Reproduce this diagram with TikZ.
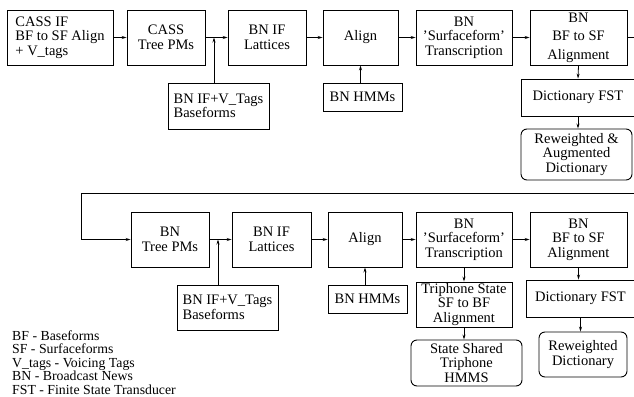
\documentclass[tikz,border=0pt]{standalone}
\usepackage{fontspec}
\setmainfont{Liberation Serif}
\usetikzlibrary{arrows.meta}
\begin{document}
\begin{tikzpicture}[x=1pt,y=-1pt,
  box/.style={draw,line width=0.9pt,inner sep=0pt,align=center,
    font=\fontsize{14.5}{14.5}\selectfont},
  rbox/.style={box,rounded corners=6pt},
  conn/.style={line width=0.8pt,-{Stealth[length=5pt,width=3pt]}},
  plain/.style={line width=0.8pt}]
\useasboundingbox (0,0) rectangle (634,396);
\clip (0,0) rectangle (634,396);
% top row
\node[box,minimum width=106pt,minimum height=55pt,align=left] (a1) at (60,37.5) {CASS IF\\BF to SF Align\\+ V\_tags};
\node[box,minimum width=78pt,minimum height=55pt] (a2) at (166,37.5) {CASS\\Tree PMs};
\node[box,minimum width=78pt,minimum height=55pt] (a3) at (267,37.5) {BN IF\\Lattices};
\node[box,minimum width=75pt,minimum height=55pt] (a4) at (360.5,37.5) {Align};
\node[box,minimum width=96pt,minimum height=55pt] (a5) at (464,37.5) {BN\\'Surfaceform'\\Transcription};
\node[box,minimum width=97pt,minimum height=55pt] (a6) at (578.5,37.5) {BN\\[4pt]BF to SF\\[4pt]Alignment};
\node[box,minimum width=101pt,minimum height=46pt,align=left] (b1) at (218.5,106) {BN IF+V\_Tags\\Baseforms};
\node[box,minimum width=79pt,minimum height=28pt] (b2) at (362.5,97) {BN HMMs};
\node[box,minimum width=114pt,minimum height=37pt] (d1) at (578,97.5) {Dictionary FST};
\node[rbox,minimum width=111pt,minimum height=51pt] (r1) at (576.5,154.5) {Reweighted \&\\Augmented\\Dictionary};
\coordinate (j1) at (214,37.5);
\draw[conn] (a1) -- (a2);
\draw[conn] (a2) -- (a3);
\draw[conn] (j1 |- b1.north) -- (j1);
\draw[conn] (a3) -- (a4);
\draw[conn] (a4.south |- b2.north) -- (a4.south);
\draw[conn] (a4) -- (a5);
\draw[conn] (a5) -- (a6);
\draw[conn] (a6.south) -- (d1.north);
\draw[conn] (d1.south) -- (d1.south |- r1.north);
% bottom row
\node[box,minimum width=78pt,minimum height=55pt] (c1) at (170,239.5) {BN\\Tree PMs};
\node[box,minimum width=79pt,minimum height=55pt] (c2) at (271.5,239.5) {BN IF\\Lattices};
\node[box,minimum width=74pt,minimum height=55pt] (c3) at (365,239.5) {Align};
\node[box,minimum width=96pt,minimum height=55pt] (c4) at (464,239.5) {BN\\'Surfaceform'\\Transcription};
\node[box,minimum width=97pt,minimum height=55pt] (c5) at (578.5,239.5) {BN\\BF to SF\\Alignment};
\node[box,minimum width=101pt,minimum height=45pt,align=left] (e1) at (227.5,307.5) {BN IF+V\_Tags\\Baseforms};
\node[box,minimum width=79pt,minimum height=28pt] (e2) at (367.5,299) {BN HMMs};
\node[box,minimum width=96pt,minimum height=45pt] (f1) at (464,304.5) {Triphone State\\SF to BF\\Alignment};
\node[rbox,minimum width=111pt,minimum height=46pt] (g1) at (466.5,363) {State Shared\\Triphone\\HMMS};
\node[box,minimum width=109pt,minimum height=37pt] (d2) at (580.5,298.5) {Dictionary FST};
\node[rbox,minimum width=88pt,minimum height=45pt] (r2) at (583,354.5) {Reweighted\\Dictionary};
\coordinate (j2) at (218,239.5);
\coordinate (k1) at (640,37.5);
\coordinate (k2) at (640,193);
\coordinate (k3) at (81,193);
\draw[conn] (a6.east) -- (k1) -- (k2) -- (k3) |- (c1.west);
\draw[conn] (c1) -- (c2);
\draw[conn] (j2 |- e1.north) -- (j2);
\draw[conn] (c2) -- (c3);
\draw[conn] (c3.south |- e2.north) -- (c3.south);
\draw[conn] (c3) -- (c4);
\draw[conn] (c4) -- (c5);
\draw[conn] (c4.south) -- (f1.north);
\draw[conn] (f1.south) -- (f1.south |- g1.north);
\draw[conn] (c5.south) -- (c5.south |- d2.north);
\draw[conn] (d2.south) -- (d2.south |- r2.north);
% legend
\node[anchor=north west,inner sep=0pt,align=left,font=\fontsize{13.8}{13.5}\selectfont] (leg) at (12,330.5) {BF - Baseforms\\SF - Surfaceforms\\V\_tags - Voicing Tags\\BN - Broadcast News\\FST - Finite State Transducer};
\end{tikzpicture}
\end{document}
